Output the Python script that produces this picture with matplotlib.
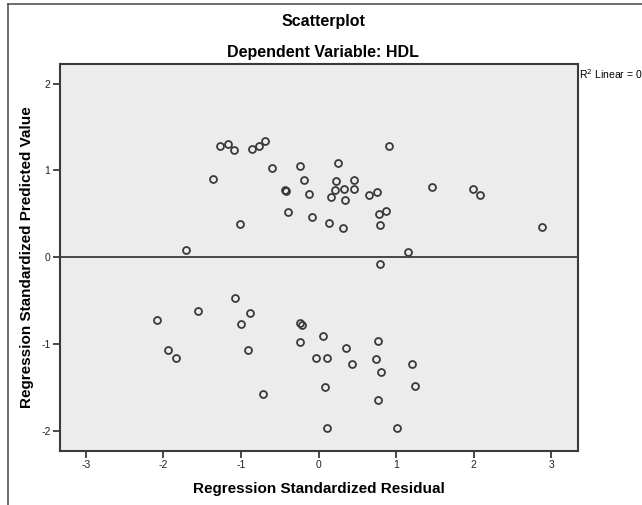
import matplotlib
matplotlib.use("Agg")
import matplotlib.pyplot as plt
from matplotlib.lines import Line2D

plt.rcParams['font.family'] = ['Liberation Sans', 'DejaVu Sans']

# residuals (x) and predicted values (y)
residual = [-1.275, -1.168, -1.094, -0.854, -0.764, -0.694, -0.600, -1.361,
            -0.235, -0.183, -0.432, -0.415, -0.123, -0.397, -0.080, -1.017,
            -1.706, 0.248, 0.910, 0.222, 0.462, 0.213, 0.325, 0.458,
            0.161, 0.338, 0.655, 0.755, 0.132, 0.320, 0.777, 0.871,
            0.790, 1.461, 1.990, 2.075, 2.884, 1.151, 0.785,
            -2.080, -1.551, -1.081, -0.880, -0.996, -1.946, -1.835, -0.914,
            -0.716, -0.239, -0.209, -0.243, -0.036, 0.062, 0.764, 0.351,
            0.106, 0.428, 0.746, 1.203, 0.803, 0.084, 1.241, 0.768,
            0.114, 1.013]
predicted = [1.282, 1.305, 1.229, 1.248, 1.279, 1.336, 1.025, 0.902,
             1.045, 0.891, 0.772, 0.757, 0.722, 0.515, 0.461, 0.377,
             0.077, 1.079, 1.282, 0.876, 0.887, 0.772, 0.780, 0.780,
             0.695, 0.657, 0.711, 0.749, 0.388, 0.331, 0.495, 0.530,
             0.369, 0.803, 0.787, 0.711, 0.342, 0.054, -0.077,
             -0.729, -0.622, -0.469, -0.645, -0.775, -1.068, -1.167, -1.071,
             -1.582, -0.760, -0.787, -0.983, -1.167, -0.910, -0.964, -1.045,
             -1.167, -1.229, -1.172, -1.233, -1.328, -1.494, -1.490, -1.644,
             -1.970, -1.970]

x_ticks = [-3, -2, -1, 0, 1, 2, 3]
y_ticks = [-2, -1, 0, 1, 2]

dark = '#3a3a3a'

fig = plt.figure(figsize=(6.42, 5.05), dpi=100)
ax = fig.add_axes([0.0939, 0.1075, 0.806, 0.7658])
ax.set_facecolor('#ececec')

ax.plot(residual, predicted, 'o', linestyle='none', markersize=5,
        markerfacecolor='none', markeredgecolor=dark, markeredgewidth=1.3)
ax.axhline(0, color=dark, lw=1.3)

ax.set_xlim(-3.33, 3.34)
ax.set_ylim(-2.23, 2.225)
ax.set_xticks(x_ticks)
ax.set_yticks(y_ticks)
ax.set_xticklabels([str(t) for t in x_ticks])
ax.set_yticklabels([str(t) for t in y_ticks])
ax.tick_params(direction='out', length=5, width=1.3, color=dark,
               labelsize=7.5, labelcolor='#222222', pad=2)
for sp in ax.spines.values():
    sp.set_color(dark)
    sp.set_linewidth(1.5)

ax.set_xlabel('Regression Standardized Residual', fontsize=11,
              fontweight='bold', labelpad=8)
ax.set_ylabel('Regression Standardized Predicted Value', fontsize=11,
              fontweight='bold', labelpad=5)

fig.text(323 / 642, 1 - 26 / 505, 'Scatterplot', ha='center', va='baseline',
         fontsize=11.5, fontweight='bold')
fig.text(323 / 642, 1 - 57 / 505, 'Dependent Variable: HDL', ha='center',
         va='baseline', fontsize=11.5, fontweight='bold')
fig.text(579 / 642, 1 - 74 / 505, 'R$^2$ Linear = 0', ha='left',
         va='center', fontsize=7.5)

# frame of the output window
fig.add_artist(Line2D([8 / 642, 1], [1 - 4 / 505, 1 - 4 / 505],
                      color='#555555', lw=1.2))
fig.add_artist(Line2D([8 / 642, 8 / 642], [0, 1 - 4 / 505],
                      color='#555555', lw=1.2))

fig.savefig('out.png', dpi=100)
